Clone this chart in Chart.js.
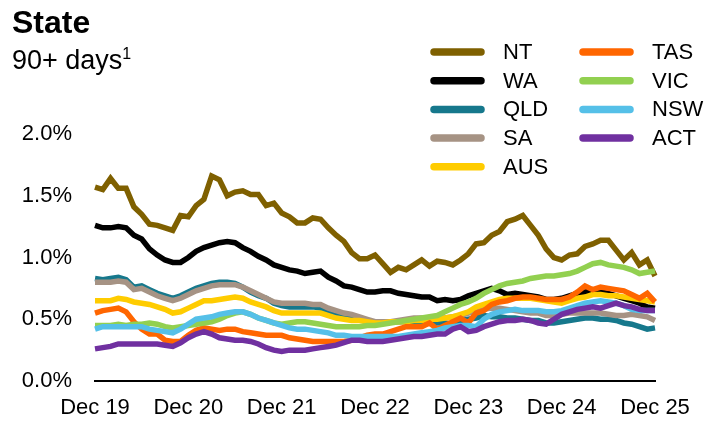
<!DOCTYPE html>
<html>
<head>
<meta charset="utf-8">
<script src="https://cdn.jsdelivr.net/npm/chart.js@4.4.1/dist/chart.umd.min.js"></script>
<style>
    body { margin: 0; background: #fff; }
    #wrap { position: relative; width: 705px; height: 422px; font-family: "Liberation Sans", Arial, sans-serif; color: #000; }
    #chart { position: absolute; left: 0; top: 0; }
    .title { position: absolute; left: 12px; top: 6px; font-size: 32px; font-weight: bold; line-height: 1; }
    .subtitle { position: absolute; left: 12px; top: 47px; font-size: 27px; line-height: 1; }
    .subtitle sup { font-size: 16px; vertical-align: 10px; line-height: 0; }
</style>
</head>
<body>
<div id="wrap">
    <canvas id="chart" width="705" height="422"></canvas>
    <div class="title">State</div>
    <div class="subtitle">90+ days<sup>1</sup></div>
</div>
<script>
// Monthly arrears, Dec 2019 to Dec 2025 (% of balances, 90+ days)
const tickLabels = ["Dec 19", "Dec 20", "Dec 21", "Dec 22", "Dec 23", "Dec 24", "Dec 25"];
const monthNames = ["Jan", "Feb", "Mar", "Apr", "May", "Jun", "Jul", "Aug", "Sep", "Oct", "Nov", "Dec"];

const months = [];
for (let i = 0; i <= 72; i++) {
    const m = (11 + i) % 12;
    const yr = 19 + Math.floor((11 + i) / 12);
    months.push(monthNames[m] + " " + yr);
}

const nt = [1.57,1.55,1.64,1.56,1.56,1.41,1.35,1.27,1.26,1.24,1.22,1.34,1.33,1.42,1.47,1.66,1.63,1.50,1.53,1.54,1.51,1.51,1.42,1.44,1.36,
    1.33,1.28,1.28,1.32,1.31,1.24,1.18,1.13,1.04,0.99,0.99,1.02,0.95,0.88,0.92,0.90,0.94,0.98,0.93,0.97,0.96,0.94,0.98,1.03,
    1.11,1.12,1.18,1.21,1.29,1.31,1.34,1.26,1.18,1.07,1.00,0.98,1.02,1.03,1.09,1.11,1.14,1.14,1.06,0.98,1.04,0.94,0.98,0.85];
const wa = [1.26,1.24,1.24,1.25,1.24,1.18,1.15,1.07,1.02,0.98,0.96,0.96,1.00,1.05,1.08,1.10,1.12,1.13,1.12,1.08,1.05,1.01,0.98,0.94,0.92,
    0.90,0.89,0.87,0.88,0.89,0.84,0.81,0.77,0.76,0.74,0.72,0.72,0.73,0.73,0.71,0.70,0.69,0.68,0.68,0.65,0.66,0.65,
    0.66,0.69,0.71,0.73,0.75,0.73,0.70,0.71,0.70,0.69,0.68,0.66,0.66,0.67,0.69,0.71,0.72,0.73,0.72,0.71,0.69,0.67,0.65,0.63,0.60,0.59];
const qld = [0.83,0.82,0.83,0.84,0.82,0.76,0.77,0.74,0.71,0.69,0.67,0.69,0.72,0.75,0.77,0.79,0.80,0.80,0.79,0.76,0.72,0.69,0.67,0.63,0.61,
    0.60,0.60,0.60,0.60,0.59,0.57,0.55,0.53,0.52,0.50,0.48,0.47,0.47,0.48,0.48,0.48,0.48,0.48,0.47,0.47,0.47,0.46,
    0.49,0.50,0.51,0.53,0.52,0.52,0.51,0.51,0.50,0.49,0.49,0.47,0.47,0.48,0.49,0.50,0.51,0.51,0.50,0.50,0.49,0.47,0.46,0.44,0.42,0.43];
const sa = [0.80,0.80,0.80,0.81,0.80,0.74,0.75,0.72,0.69,0.67,0.65,0.67,0.70,0.73,0.75,0.77,0.78,0.78,0.78,0.76,0.73,0.70,0.67,0.64,0.63,
    0.63,0.63,0.63,0.62,0.62,0.59,0.57,0.55,0.54,0.52,0.50,0.48,0.48,0.48,0.49,0.50,0.51,0.51,0.50,0.51,0.51,0.52,
    0.53,0.55,0.56,0.58,0.59,0.59,0.58,0.57,0.56,0.55,0.55,0.53,0.53,0.54,0.55,0.55,0.55,0.55,0.55,0.54,0.53,0.53,0.54,0.53,0.52,0.49];
const aus = [0.65,0.65,0.65,0.67,0.66,0.64,0.63,0.62,0.60,0.58,0.55,0.56,0.59,0.62,0.65,0.65,0.66,0.67,0.68,0.67,0.64,0.62,0.60,0.57,0.55,
    0.55,0.55,0.55,0.55,0.55,0.53,0.51,0.50,0.49,0.49,0.48,0.47,0.47,0.48,0.48,0.48,0.49,0.49,0.50,0.50,0.51,0.52,
    0.54,0.56,0.60,0.62,0.64,0.66,0.67,0.67,0.67,0.67,0.66,0.65,0.64,0.63,0.65,0.67,0.68,0.70,0.70,0.69,0.69,0.68,0.67,0.66,0.65,0.64];
const tas = [0.55,0.57,0.58,0.59,0.56,0.48,0.42,0.38,0.38,0.33,0.32,0.32,0.37,0.41,0.43,0.42,0.41,0.42,0.42,0.40,0.39,0.38,0.37,0.37,0.37,
    0.35,0.34,0.33,0.32,0.32,0.32,0.32,0.32,0.33,0.35,0.37,0.38,0.38,0.40,0.42,0.44,0.44,0.44,0.47,0.42,0.45,0.48,
    0.51,0.47,0.55,0.57,0.62,0.64,0.65,0.67,0.68,0.68,0.67,0.66,0.66,0.66,0.68,0.72,0.77,0.74,0.76,0.75,0.74,0.73,0.70,0.67,0.71,0.64];
const vic = [0.45,0.45,0.45,0.46,0.45,0.46,0.46,0.47,0.46,0.44,0.43,0.44,0.45,0.46,0.47,0.48,0.50,0.53,0.55,0.56,0.54,0.51,0.49,0.47,0.46,
    0.47,0.48,0.48,0.47,0.46,0.45,0.44,0.44,0.44,0.44,0.45,0.45,0.46,0.47,0.48,0.49,0.50,0.51,0.52,0.53,0.56,0.59,
    0.62,0.64,0.67,0.71,0.74,0.77,0.79,0.80,0.81,0.83,0.84,0.85,0.85,0.86,0.87,0.89,0.92,0.95,0.96,0.94,0.93,0.92,0.90,0.87,0.88,0.89];
const nsw = [0.42,0.44,0.44,0.44,0.44,0.44,0.44,0.42,0.41,0.40,0.39,0.42,0.46,0.50,0.51,0.52,0.54,0.55,0.56,0.56,0.54,0.51,0.49,0.47,0.45,
    0.43,0.42,0.42,0.41,0.40,0.39,0.37,0.37,0.36,0.36,0.36,0.36,0.36,0.36,0.36,0.37,0.38,0.39,0.40,0.41,0.43,0.44,
    0.45,0.45,0.44,0.50,0.54,0.56,0.57,0.58,0.57,0.57,0.57,0.56,0.56,0.57,0.59,0.61,0.63,0.64,0.65,0.64,0.63,0.61,0.58,0.57,0.57,0.57];
const act = [0.26,0.27,0.28,0.30,0.30,0.30,0.30,0.30,0.30,0.29,0.28,0.31,0.35,0.38,0.40,0.38,0.35,0.34,0.33,0.33,0.32,0.30,0.27,0.25,0.24,
    0.25,0.25,0.25,0.26,0.27,0.28,0.29,0.31,0.33,0.33,0.32,0.32,0.32,0.33,0.34,0.35,0.36,0.36,0.37,0.38,0.38,0.42,
    0.44,0.40,0.41,0.44,0.46,0.48,0.49,0.49,0.50,0.49,0.47,0.46,0.50,0.54,0.56,0.58,0.59,0.60,0.59,0.61,0.63,0.61,0.60,0.58,0.57,0.57];

const seriesNames = ["NT", "WA", "QLD", "SA", "AUS", "TAS", "VIC", "NSW", "ACT"];
const seriesData = [nt, wa, qld, sa, aus, tas, vic, nsw, act];
const seriesColors = ["#7F6000", "#000000", "#16788C", "#A69384", "#FFCC00", "#FF6600", "#92D050", "#55C0E8", "#7030A0"];

const FONT = "'Liberation Sans', Arial, sans-serif";

// two-column legend drawn over the top right of the plot
const stateLegend = {
    id: "stateLegend",
    afterDraw(chart) {
        const ctx = chart.ctx;
        ctx.save();
        ctx.font = "22px " + FONT;
        ctx.textBaseline = "middle";
        ctx.lineCap = "round";
        ctx.lineWidth = 7.5;
        chart.data.datasets.forEach((ds, i) => {
            const col = i < 5 ? 0 : 1;
            const row = i < 5 ? i : i - 5;
            const x0 = col === 0 ? 434 : 583;
            const y = 52 + row * 28.7;
            ctx.strokeStyle = ds.borderColor;
            ctx.beginPath();
            ctx.moveTo(x0, y);
            ctx.lineTo(x0 + 47, y);
            ctx.stroke();
            ctx.fillStyle = "#000";
            ctx.fillText(ds.label, x0 + 69, y + 1);
        });
        ctx.restore();
    }
};

function initChart() {
    const ctx = document.getElementById("chart").getContext("2d");

    new Chart(ctx, {
        type: "line",
        data: {
            labels: months,
            datasets: seriesNames.map((name, i) => ({
                label: name,
                data: seriesData[i],
                borderColor: seriesColors[i],
                backgroundColor: seriesColors[i],
                borderWidth: 5.5,
                pointRadius: 0,
                tension: 0,
                order: seriesNames.length - i
            }))
        },
        options: {
            responsive: false,
            devicePixelRatio: 1,
            animation: false,
            layout: { padding: { left: 0, right: 50, top: 134, bottom: 0 } },
            plugins: {
                legend: { display: false },
                tooltip: { enabled: false }
            },
            scales: {
                x: {
                    grid: { display: false, drawTicks: false },
                    border: { display: true, color: "#000", width: 2 },
                    afterFit: s => { s.height = 41; },
                    ticks: {
                        autoSkip: false,
                        maxRotation: 0,
                        padding: 14,
                        color: "#000",
                        font: { family: FONT, size: 22 },
                        callback: (v, i) => (i % 12 === 0 ? tickLabels[i / 12] : "")
                    }
                },
                y: {
                    min: 0,
                    max: 2,
                    grid: { display: false, drawTicks: false },
                    border: { display: false },
                    afterFit: s => { s.width = 95; },
                    ticks: {
                        stepSize: 0.5,
                        padding: 23,
                        color: "#000",
                        font: { family: FONT, size: 22 },
                        callback: v => v.toFixed(1) + "%"
                    }
                }
            }
        },
        plugins: [stateLegend]
    });
}

initChart();
</script>
</body>
</html>
